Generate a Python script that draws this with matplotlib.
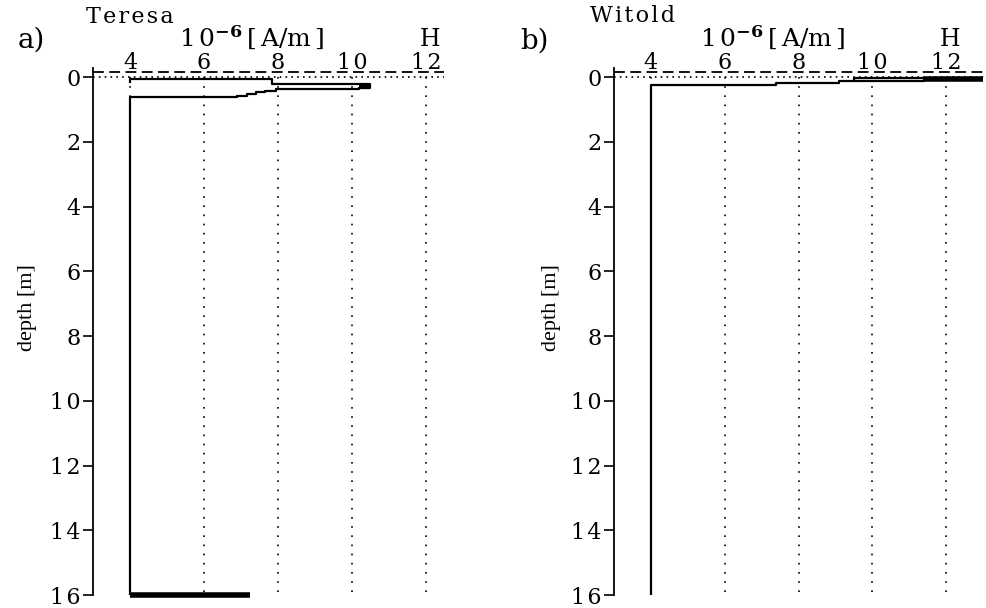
import matplotlib
matplotlib.use("Agg")
import matplotlib.pyplot as plt

SERIF = ['DejaVu Serif', 'DejaVu Sans']
plt.rcParams['font.family'] = SERIF
plt.rcParams['mathtext.fontset'] = 'dejavuserif'

# ---- data ----
x_ticks = [4, 6, 8, 10, 12]
y_ticks = [0, 2, 4, 6, 8, 10, 12, 14, 16]

# Panel a (Teresa) profile outline
teresa_x = [4.0, 4.0, 6.9, 6.9, 7.15, 7.15, 7.4, 7.4, 7.65, 7.65, 7.95, 7.95,
            10.2, 10.2, 10.5, 10.5, 7.85, 7.85, 4.0, 4.0]
teresa_y = [16.0, 0.62, 0.62, 0.58, 0.58, 0.53, 0.53, 0.47, 0.47, 0.42, 0.42, 0.37,
            0.37, 0.33, 0.33, 0.20, 0.20, 0.07, 0.07, 0.15]
teresa_thick_x = [4.0, 7.25]
teresa_thick_y = [16.0, 16.0]
teresa_end_x = [10.2, 10.5]
teresa_end_y = [0.30, 0.30]

# Panel b (Witold) profile outline
witold_x = [4.0, 4.0, 7.4, 7.4, 9.1, 9.1, 11.4, 11.4, 9.5, 9.5]
witold_y = [16.0, 0.24, 0.24, 0.17, 0.17, 0.11, 0.11, 0.03, 0.03, 0.08]
witold_thick_x = [11.4, 13.0]
witold_thick_y = [0.06, 0.06]

W, H = 987, 608
fig = plt.figure(figsize=(W / 100, H / 100), dpi=100)

def px(x, y):
    return x / W, 1 - y / H

def sp(s):
    return '\u200a'.join(s)

def make_axes(left_px, right_px, xmax):
    l, b = px(left_px, 595)
    _, t = px(0, 68)
    ax = fig.add_axes([l, b, (right_px - left_px) / W, t - b])
    ax.set_xlim(3, xmax)
    ax.set_ylim(16, -0.28)
    for s in ['top', 'right', 'bottom']:
        ax.spines[s].set_visible(False)
    ax.spines['left'].set_linewidth(1.3)
    ax.xaxis.tick_top()
    ax.set_xticks(x_ticks)
    ax.set_xticklabels([sp(str(v)) for v in x_ticks], fontsize=16)
    ax.tick_params(axis='x', length=0, pad=-4)
    ax.set_yticks(y_ticks)
    ax.set_yticklabels([sp(str(v)) for v in y_ticks], fontsize=16)
    ax.tick_params(axis='y', length=7, width=1.2, direction='out', pad=2)
    # grid
    for xv in x_ticks:
        ax.plot([xv, xv], [0, 16], color='black', lw=1.2, ls=(0, (1, 4.5)))
    ax.plot([3, xmax], [0, 0], color='black', lw=1.2, ls=(0, (1, 2.5)))
    ax.plot([3, xmax], [-0.15, -0.15], color='black', lw=1.3, ls=(0, (6, 3)))
    return ax

ax1 = make_axes(93, 444.5, 12.5)
ax1.plot(teresa_x, teresa_y, color='black', lw=1.6)
ax1.plot(teresa_thick_x, teresa_thick_y, color='black', lw=4, solid_capstyle='butt', clip_on=False)
ax1.plot(teresa_end_x, teresa_end_y, color='black', lw=3, solid_capstyle='butt')

ax2 = make_axes(614, 985, 13.05)
ax2.plot(witold_x, witold_y, color='black', lw=1.6)
ax2.plot(witold_thick_x, witold_thick_y, color='black', lw=4, solid_capstyle='butt')

# texts
def ftext(x, y, s, **kw):
    fig.text(*px(x, y), s, **kw)

unit = r'$\mathrm{1\,0}^{\mathbf{-6}}\,\mathrm{[\,A/m\,]}$'

ftext(130, 17, sp('Teresa'), fontsize=16, ha='center', va='center')
ftext(31, 40, 'a)', fontsize=20, ha='center', va='center')
ftext(251, 38, unit, fontsize=18, ha='center', va='center')
ftext(430, 40, 'H', fontsize=17, ha='center', va='center')

ftext(633, 16, sp('Witold'), fontsize=16, ha='center', va='center')
ftext(535, 41, 'b)', fontsize=20, ha='center', va='center')
ftext(772, 38, unit, fontsize=18, ha='center', va='center')
ftext(950, 40, 'H', fontsize=17, ha='center', va='center')

ftext(28, 308, 'depth [m]', fontsize=16, ha='center', va='center', rotation=90,
      family=['Liberation Serif', 'DejaVu Serif'])
ftext(552, 308, 'depth [m]', fontsize=16, ha='center', va='center', rotation=90,
      family=['Liberation Serif', 'DejaVu Serif'])

fig.savefig('out.png', dpi=100)
